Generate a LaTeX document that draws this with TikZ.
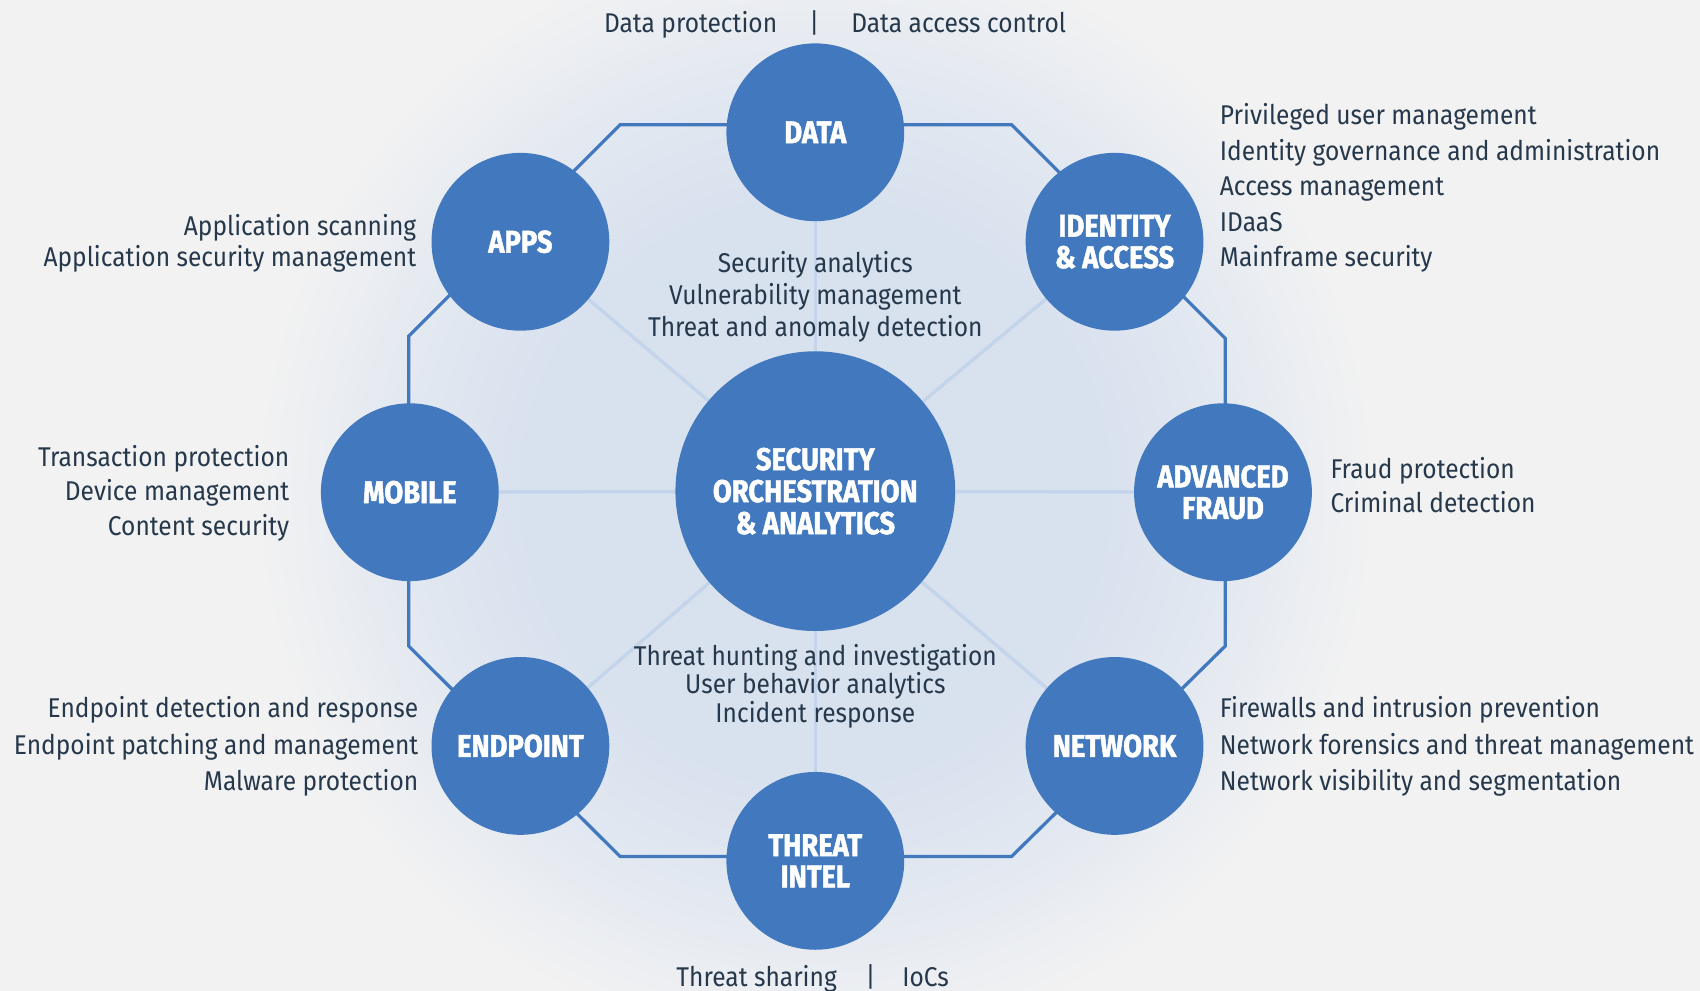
\documentclass[tikz,border=0pt]{standalone}
\usepackage{fontspec}
\setmainfont[FakeStretch=0.905]{Fira Sans}
\newfontfamily\labelfont[FakeStretch=0.87,FakeBold=1.5]{Fira Sans}
\definecolor{bg}{HTML}{F2F2F2}
\definecolor{glowc}{HTML}{D8E1EE}
\definecolor{glowm}{HTML}{E2E8F1}
\definecolor{circ}{HTML}{4279BE}
\definecolor{spoke}{HTML}{C4D5EB}
\definecolor{txt}{HTML}{26384B}
\pgfdeclareradialshading{glow}{\pgfpointorigin}{color(0bp)=(glowc); color(3.8bp)=(glowc); color(5.4bp)=(glowm); color(7.4bp)=(bg); color(50bp)=(bg)}
\pgfdeclarelayer{glowlayer}
\pgfdeclarelayer{back}
\pgfsetlayers{glowlayer,back,main}
\begin{document}
\begin{tikzpicture}[x=1pt,y=-1pt,
  hub/.style={circle, fill=circ, minimum size=164pt, inner sep=0pt, text=white,
    font=\labelfont\bfseries\fontsize{29}{29}\selectfont, align=center},
  core/.style={hub, minimum size=258pt, font=\labelfont\bfseries\fontsize{29}{29.5}\selectfont},
  ring/.style={draw=circ, line width=3pt, line join=miter},
  spk/.style={draw=spoke, line width=3.2pt},
  txtL/.style={anchor=base west, inner sep=0pt, text=txt, font=\fontsize{25}{30}\selectfont},
  txtR/.style={txtL, anchor=base east},
  txtC/.style={txtL, anchor=base},
  sep/.style={txtL, anchor=center}]
\useasboundingbox (0,0) rectangle (1568,914);
\begin{pgfonlayer}{glowlayer}
  \fill[bg] (0,0) rectangle (1568,914);
  \begin{scope}
    \clip (0,0) rectangle (1568,914);
    \shade[shading=glow] (752,453) circle (1750);
  \end{scope}
\end{pgfonlayer}

% hubs
\node[core] (core) at (752,453) {SECURITY\\ORCHESTRATION\\\& ANALYTICS};
\node[hub] (data) at (752,122) {DATA};
\node[hub] (apps) at (480,223) {APPS};
\node[hub] (ident) at (1028,223) {IDENTITY\\\& ACCESS};
\node[hub] (mobile) at (378,454) {MOBILE};
\node[hub] (fraud) at (1128,454) {ADVANCED\\FRAUD};
\node[hub] (endpt) at (480,688) {ENDPOINT};
\node[hub] (netw) at (1028,688) {NETWORK};
\node[hub] (intel) at (752,794) {THREAT\\INTEL};

% ring corners
\coordinate (o1) at (572,115);
\coordinate (o2) at (933,115);
\coordinate (o3) at (1130,312);
\coordinate (o4) at (1130,596);
\coordinate (o5) at (933,790);
\coordinate (o6) at (572,790);
\coordinate (o7) at (377,596);
\coordinate (o8) at (377,310);

\begin{pgfonlayer}{back}
  \draw[ring] (o1) -- (o2) -- (o3) -- (o4) -- (o5) -- (o6) -- (o7) -- (o8) -- cycle;
  \foreach \n in {data,apps,ident,mobile,fraud,endpt,netw,intel}
    \draw[spk] (core.center) -- (\n.center);
\end{pgfonlayer}

% texts
\node[txtL, anchor=base east] (dp) at (717,30) {Data protection};
\node[sep] (dsep) at (751,21) {|};
\node[txtL] (dac) at (785,30) {Data access control};

\foreach \t [count=\i] in {Privileged user management, Identity governance and administration, Access management, IDaaS, Mainframe security}
  \node[txtL] (idt\i) at (1125,{115+32.8*(\i-1)}) {\t};

\foreach \t [count=\i] in {Application scanning, Application security management}
  \node[txtR] (apt\i) at (384,{217+29*(\i-1)}) {\t};

\foreach \t [count=\i] in {Security analytics, Vulnerability management, Threat and anomaly detection}
  \node[txtC] (ct\i) at (752,{251+29.5*(\i-1)}) {\t};

\foreach \t [count=\i] in {Transaction protection, Device management, Content security}
  \node[txtR] (mbt\i) at (267,{430+32*(\i-1)}) {\t};

\foreach \t [count=\i] in {Fraud protection, Criminal detection}
  \node[txtL] (frt\i) at (1227,{441+32*(\i-1)}) {\t};

\foreach \t [count=\i] in {Threat hunting and investigation, User behavior analytics, Incident response}
  \node[txtC] (cb\i) at (752,{614+26*(\i-1)}) {\t};

\foreach \t [count=\i] in {Endpoint detection and response, Endpoint patching and management, Malware protection}
  \node[txtR] (ept\i) at (386,{662+33.5*(\i-1)}) {\t};

\foreach \t [count=\i] in {Firewalls and intrusion prevention, Network forensics and threat management, Network visibility and segmentation}
  \node[txtL] (nwt\i) at (1125,{662+33.5*(\i-1)}) {\t};

\node[txtR] (ts) at (772,910) {Threat sharing};
\node[sep] (tsep) at (803,901) {|};
\node[txtL] (iocs) at (832,910) {IoCs};
\end{tikzpicture}
\end{document}
